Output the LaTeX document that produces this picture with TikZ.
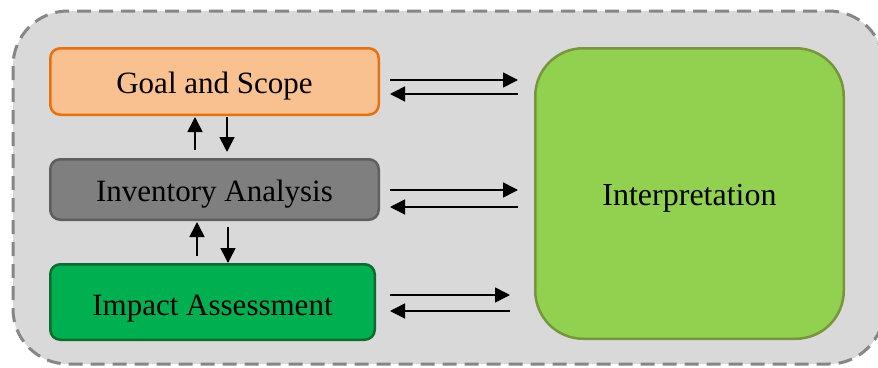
\documentclass[tikz,border=0pt]{standalone}
\usepackage{fontspec}
\setmainfont{Liberation Serif}
\usetikzlibrary{arrows.meta}
\definecolor{outerfill}{HTML}{D9D9D9}
\definecolor{outerline}{HTML}{868686}
\definecolor{goalfill}{HTML}{F8C18F}
\definecolor{goalline}{HTML}{E8700F}
\definecolor{invfill}{HTML}{7F7F7F}
\definecolor{invline}{HTML}{5E5E5E}
\definecolor{impfill}{HTML}{00AF50}
\definecolor{impline}{HTML}{0E6B30}
\definecolor{intfill}{HTML}{92D050}
\definecolor{intline}{HTML}{77953D}
\tikzset{
  stagebox/.style={draw, line width=2.5pt, rounded corners=10pt, inner sep=0pt,
    font=\fontsize{31}{34}\selectfont, text=black, text height=23.5pt, text depth=0pt},
  arr/.style={line width=1.6pt, -{Triangle[length=15pt,width=15pt]}},
}
\begin{document}
\begin{tikzpicture}[x=1pt,y=-1pt]
\clip (0,0) rectangle (878,367);
\useasboundingbox (0,0) rectangle (878,367);
\fill[white] (0,0) rectangle (878,367);
\draw[fill=outerfill, draw=outerline, line width=3pt, dash pattern=on 14pt off 8pt, rounded corners=55pt]
  (13,11) rectangle (884,364);
\node[stagebox, fill=goalfill, draw=goalline, minimum width=328.5pt, minimum height=66.5pt] (goal) at (214.5,81.5) {Goal and Scope};
\node[stagebox, fill=invfill, draw=invline, minimum width=328.5pt, minimum height=60.5pt] (inv) at (214.5,189.5) {Inventory Analysis};
\node[stagebox, fill=impfill, draw=impline, minimum width=324.5pt, minimum height=75.5pt, text height=26pt] (imp) at (212.5,302) {Impact Assessment};
\node[stagebox, fill=intfill, draw=intline, rounded corners=48pt, minimum width=308.5pt, minimum height=290.5pt, font=\fontsize{32}{36}\selectfont, text height=24pt] (int) at (689.5,193.5) {Interpretation};
% vertical arrows
\draw[arr] ([xshift=-19.5pt,yshift=8pt]inv.north) -- ([xshift=-19.5pt,yshift=-1pt]goal.south);
\draw[arr] ([xshift=12.5pt,yshift=-1pt]goal.south) -- ([xshift=12.5pt,yshift=6pt]inv.north);
\draw[arr] ([xshift=-15.5pt,yshift=7pt]imp.north) -- ([xshift=-17.5pt,yshift=-1pt]inv.south);
\draw[arr] ([xshift=13.5pt,yshift=-6pt]inv.south) -- ([xshift=15.5pt]imp.north);
% horizontal arrow anchor points
\coordinate (g1) at ([xshift=10pt,yshift=1.5pt]goal.east);
\coordinate (g2) at ([xshift=10pt,yshift=-12.5pt]goal.east);
\coordinate (i1) at ([xshift=10pt,yshift=-0.5pt]inv.east);
\coordinate (i2) at ([xshift=10pt,yshift=-17.5pt]inv.east);
\coordinate (m1) at ([xshift=14pt,yshift=7pt]imp.east);
\coordinate (m2) at ([xshift=14pt,yshift=-9pt]imp.east);
\draw[arr] (g1) -- ([xshift=-16pt]int.west |- g1);
\draw[arr] ([xshift=-16pt]int.west |- g2) -- (g2);
\draw[arr] (i1) -- ([xshift=-16pt]int.west |- i1);
\draw[arr] ([xshift=-16pt]int.west |- i2) -- (i2);
\draw[arr] (m1) -- ([xshift=-24pt]int.west |- m1);
\draw[arr] ([xshift=-24pt]int.west |- m2) -- (m2);
\end{tikzpicture}
\end{document}
